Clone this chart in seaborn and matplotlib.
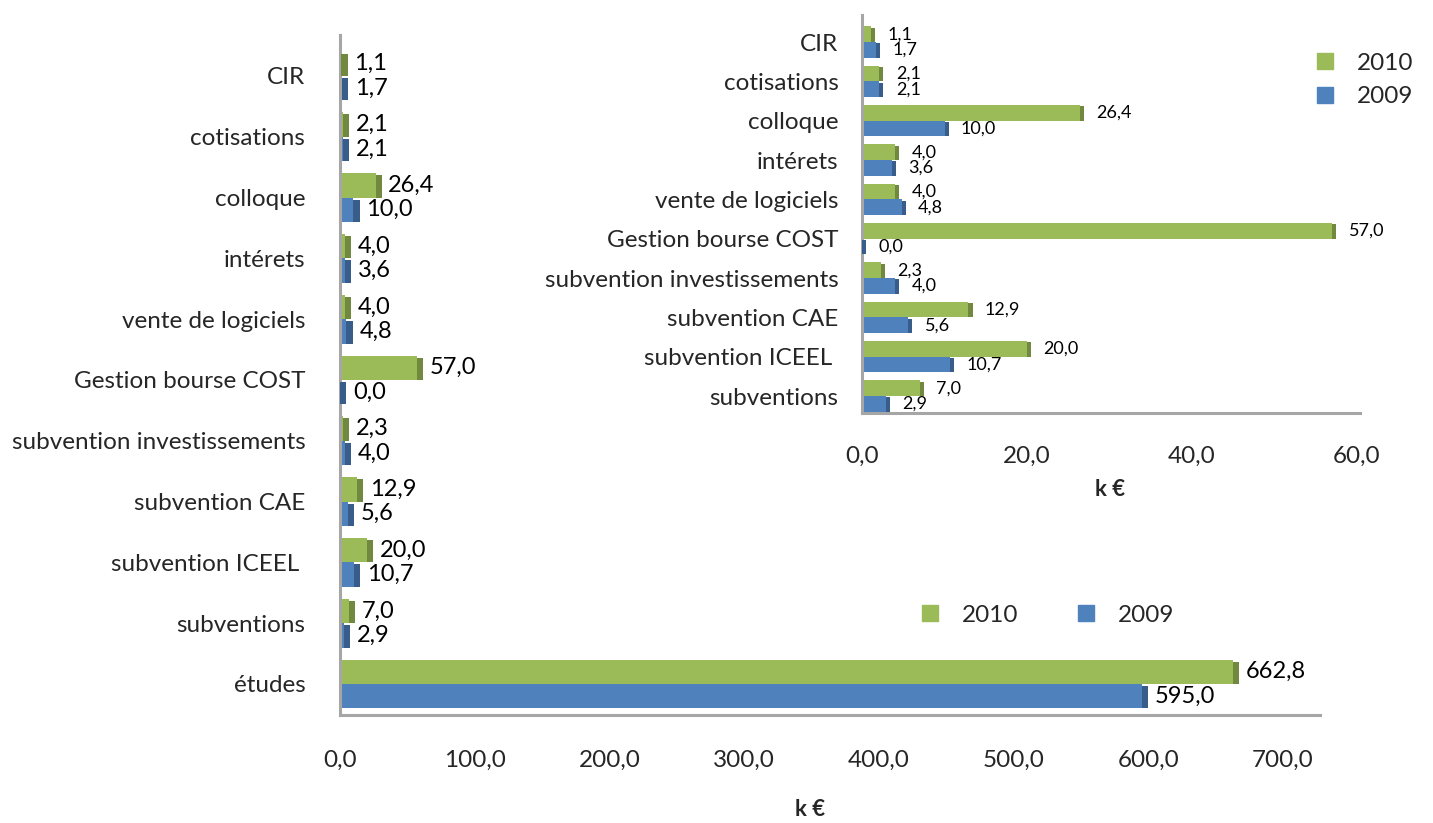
import numpy as np
import pandas as pd
import matplotlib
matplotlib.use("Agg")
import matplotlib.pyplot as plt
import matplotlib.patches as patches
from matplotlib.lines import Line2D
import seaborn as sns

# categories, top to bottom
categories = ["CIR", "cotisations", "colloque", "intérets", "vente de logiciels",
              "Gestion bourse COST", "subvention investissements", "subvention CAE",
              "subvention ICEEL ", "subventions", "études"]
v2010 = [1.1, 2.1, 26.4, 4.0, 4.0, 57.0, 2.3, 12.9, 20.0, 7.0, 662.8]
v2009 = [1.7, 2.1, 10.0, 3.6, 4.8, 0.0, 4.0, 5.6, 10.7, 2.9, 595.0]
years = ["2010", "2009"]
main_ticks = [0, 100, 200, 300, 400, 500, 600, 700]
inset_ticks = [0, 20, 40, 60]

GREEN, BLUE = "#9BBB59", "#4F81BD"
GREEN_D, BLUE_D = "#71893F", "#385D8A"
GREY = "#A6A6A6"

sns.set_theme(style="white")
plt.rcParams['font.family'] = ['Lato', 'DejaVu Sans']

FS = 17.5


def fmt(v):
    return f"{v:.1f}".replace(".", ",")


def make_df(cats, a, b):
    return pd.DataFrame({
        "cat": list(cats) * 2,
        "val": list(a) + list(b),
        "year": [years[0]] * len(cats) + [years[1]] * len(cats),
    })


def draw(ax, df, depth, label_off, label_size, ticks):
    sns.barplot(data=df, y="cat", x="val", hue="year", hue_order=years,
                palette=[GREEN, BLUE], orient="h", width=0.8, ax=ax,
                legend=False, saturation=1, linewidth=0)
    # fake 3D end caps + value labels
    for container, dark in zip(ax.containers, [GREEN_D, BLUE_D]):
        for p in container:
            w = p.get_width()
            y, h = p.get_y(), p.get_height()
            ax.add_patch(patches.Rectangle((w, y + h * 0.08), depth, h * 0.92,
                                           color=dark, lw=0, zorder=3))
            ax.text(w + depth + label_off, y + h / 2, fmt(w), va="center",
                    ha="left", fontsize=label_size, color="black")
    ax.set_xticks(ticks)
    ax.set_xticklabels([fmt(t) for t in ticks])
    ax.set_xlabel("")
    ax.set_ylabel("")
    for s in ["top", "right"]:
        ax.spines[s].set_visible(False)
    for s in ["left", "bottom"]:
        ax.spines[s].set_color(GREY)
        ax.spines[s].set_linewidth(2.2)


fig = plt.figure(figsize=(14.33, 8.23), dpi=100)

# main chart
ax = fig.add_axes([340 / 1433, 1 - 715 / 823, 980 / 1433, 680 / 823])
draw(ax, make_df(categories, v2010, v2009), 4.5, 5, 17, main_ticks)
ax.set_xlim(0, 727.5)
ax.set_ylim(10.51, -0.674)
ax.tick_params(axis="x", length=0, pad=25, labelsize=FS)
ax.tick_params(axis="y", length=0, pad=25, labelsize=FS)
ax.legend(handles=[Line2D([], [], marker="s", ls="", color=GREEN, markersize=12),
                   Line2D([], [], marker="s", ls="", color=BLUE, markersize=12)],
          labels=years, ncol=2, frameon=False, fontsize=FS,
          loc="center", bbox_to_anchor=(1040 / 1433, 1 - 615 / 823),
          bbox_transform=fig.transFigure, handletextpad=0.3, columnspacing=1.8)
fig.text(810 / 1433, 1 - 810 / 823, "k €", ha="center", va="center",
         fontsize=16, fontweight="bold")

# inset without études
ax2 = fig.add_axes([862 / 1433, 1 - 413 / 823, 498 / 1433, 398 / 823])
ax2.set_facecolor("none")
draw(ax2, make_df(categories[:-1], v2010[:-1], v2009[:-1]), 0.5, 1.5, 13, inset_ticks)
ax2.set_xlim(0, 60.36)
ax2.set_ylim(9.43, -0.687)
ax2.tick_params(axis="x", length=0, pad=24, labelsize=FS)
ax2.tick_params(axis="y", length=0, pad=17, labelsize=FS)
ax2.legend(handles=[Line2D([], [], marker="s", ls="", color=GREEN, markersize=12),
                    Line2D([], [], marker="s", ls="", color=BLUE, markersize=12)],
           labels=years, ncol=1, frameon=False, fontsize=FS,
           loc="center", bbox_to_anchor=(1357 / 1433, 1 - 80 / 823),
           bbox_transform=fig.transFigure, handletextpad=0.3, labelspacing=0.5)
fig.text(1110 / 1433, 1 - 490 / 823, "k €", ha="center", va="center",
         fontsize=16, fontweight="bold")

fig.savefig("out.png", dpi=100)
